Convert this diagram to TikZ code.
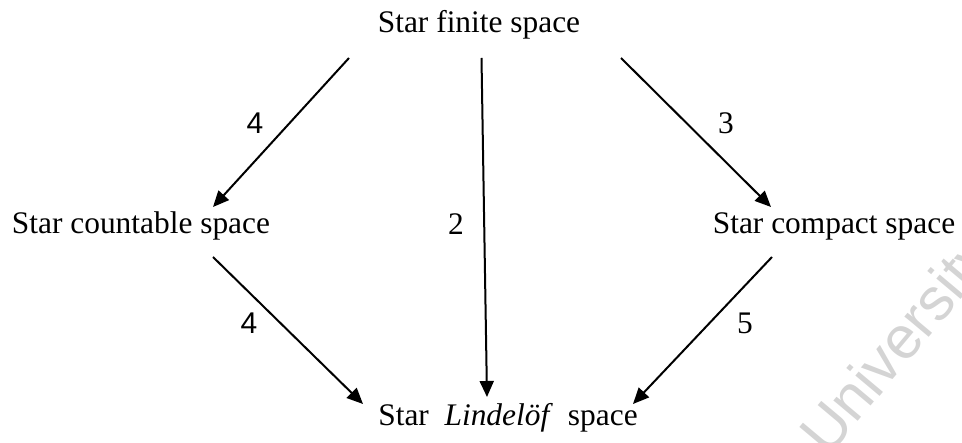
\documentclass[tikz,border=0pt]{standalone}
\usepackage{fontspec}
\setmainfont{Liberation Serif}
\newfontfamily\sansf{Liberation Sans}
\usetikzlibrary{arrows.meta}
\begin{document}
\begin{tikzpicture}[x=1pt,y=-1pt,
  lbl/.style={font=\fontsize{31.4}{36}\selectfont, inner sep=0pt},
  num/.style={font=\fontsize{31.4}{36}\selectfont, inner sep=0pt},
  snum/.style={font=\sansf\fontsize{30}{36}\selectfont, inner sep=0pt},
  arr/.style={line width=2pt, -{Triangle[length=16pt,width=14pt]}}]
\useasboundingbox (0,0) rectangle (962,443);
\begin{scope}
\clip (0,0) rectangle (962,443);
\node[anchor=base west, rotate=50, text=black!17, inner sep=0pt,
  font=\sansf\fontsize{60}{64}\selectfont] (wm) at (828,458) {University};
\end{scope}
% texts
\node[lbl, anchor=base] (top) at (479,33) {Star finite space};
\node[lbl, anchor=base] (left) at (141,234) {Star countable space};
\node[lbl, anchor=base] (right) at (834,234) {Star compact space};
\node[lbl, anchor=base] (bot) at (508,426) {Star\hspace{0.5em}\textit{Lindelöf}\hspace{0.48em}space};
% endpoints
\coordinate (a1s) at (349,58);  \coordinate (a1e) at (213,207);
\coordinate (a2s) at (481.5,58); \coordinate (a2e) at (487,397);
\coordinate (a3s) at (621,58);  \coordinate (a3e) at (771,207);
\coordinate (a4s) at (213,257); \coordinate (a4e) at (363,404);
\coordinate (a5s) at (772,257); \coordinate (a5e) at (633,404);
\draw[arr] (a1s) -- (a1e);
\draw[arr] (a2s) -- (a2e);
\draw[arr] (a3s) -- (a3e);
\draw[arr] (a4s) -- (a4e);
\draw[arr] (a5s) -- (a5e);
% labels
\node[snum] (n1) at (255,123) {4};
\node[num] (n2) at (456,224) {2};
\node[num] (n3) at (726,123) {3};
\node[snum] (n4) at (249,323) {4};
\node[num] (n5) at (745,323) {5};
\end{tikzpicture}
\end{document}
